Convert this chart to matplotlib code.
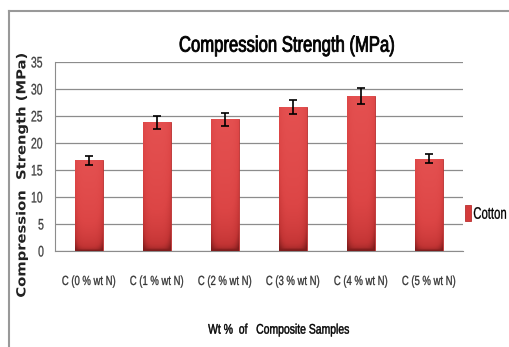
import matplotlib
matplotlib.use("Agg")
import matplotlib.pyplot as plt
from matplotlib.lines import Line2D
from matplotlib.patheffects import AbstractPathEffect
from matplotlib.transforms import Affine2D
from matplotlib.colors import LinearSegmentedColormap
import numpy as np

categories = ["C (0 % wt N)", "C (1 % wt N)", "C (2 % wt N)", "C (3 % wt N)", "C (4 % wt N)", "C (5 % wt N)"]
values = [16.8, 23.8, 24.4, 26.6, 28.7, 17.1]
errors = [0.8, 1.2, 1.2, 1.3, 1.4, 0.8]
yticks = [0, 5, 10, 15, 20, 25, 30, 35]


class Condense(AbstractPathEffect):
    """Horizontally squeeze (or stretch) text glyphs, optionally with a thin stroke."""
    def __init__(self, sx=0.8, anchor="center", stroke=0.0):
        super().__init__()
        self.sx = sx
        self.anchor = anchor
        self.stroke = stroke

    def draw_path(self, renderer, gc, tpath, affine, rgbFace=None):
        ext = tpath.get_extents()
        cx = ext.x0 if self.anchor == "left" else (ext.x0 + ext.x1) / 2
        t = Affine2D().translate(-cx, 0).scale(self.sx, 1).translate(cx, 0) + affine
        if self.stroke > 0 and rgbFace is not None:
            gc0 = renderer.new_gc()
            gc0.copy_properties(gc)
            gc0.set_linewidth(self.stroke)
            gc0.set_foreground(rgbFace)
            renderer.draw_path(gc0, tpath, t, rgbFace)
            gc0.restore()
        else:
            renderer.draw_path(gc, tpath, t, rgbFace)


BASE = "Liberation Sans"

fig = plt.figure(figsize=(5.09, 3.47), dpi=100)
ax = fig.add_axes([0.108, 0.2767, 0.8016, 0.5447])

x = np.arange(len(categories))
bars = ax.bar(x, values, width=0.41, color="#d43b3b", edgecolor="#b83030", linewidth=0.6,
              label="Cotton", zorder=3)

# gradient shading inside each bar
cmap = LinearSegmentedColormap.from_list("barshade", ["#7e1c1c", "#c23434", "#dc4545", "#e45050"])
gy = np.linspace(0, 1, 64)[:, None]
gx = np.linspace(-1, 1, 32)[None, :]
shade = np.clip(gy ** 0.35 - 0.25 * gx ** 4, 0, 1)
for b in bars:
    bx, by = b.get_x(), b.get_y()
    im = ax.imshow(shade, cmap=cmap, vmin=0, vmax=1, aspect="auto", origin="lower",
                   extent=[bx, bx + b.get_width(), by, by + b.get_height()], zorder=3.1,
                   interpolation="bilinear")
    im.set_clip_path(b)

ax.errorbar(x, values, yerr=errors, fmt="none", ecolor="black", elinewidth=1.2,
            capsize=3, capthick=1.2, zorder=4)

ax.set_xlim(-0.5, len(categories) - 0.5)
ax.set_ylim(0, 35)
ax.set_yticks(yticks)
ax.set_yticklabels([str(t) for t in yticks], fontsize=11, family=BASE, color="#404040")
ax.set_xticks(x)
ax.set_xticklabels(categories, fontsize=9.5, family=BASE, color="#333333")
ax.tick_params(axis="y", length=0, pad=7)
ax.tick_params(axis="x", length=0, pad=18)
for lab in ax.get_yticklabels():
    lab.set_path_effects([Condense(0.68, stroke=0.2)])
for lab in ax.get_xticklabels():
    lab.set_path_effects([Condense(0.72, stroke=0.2)])
ax.grid(axis="y", color="#8c8c8c", linewidth=0.9, zorder=0)
for s in ["top", "right"]:
    ax.spines[s].set_visible(False)
ax.spines["left"].set_color("#8c8c8c")
ax.spines["bottom"].set_color("#8c8c8c")

t = fig.text(0.564, 0.867, "Compression Strength (MPa)", fontsize=16, family=BASE,
             ha="center", va="center", color="black")
t.set_path_effects([Condense(0.75, stroke=0.6)])
yl = fig.text(0.043, 0.494, "Compression  Strength (MPa)", fontsize=9, fontweight="bold",
              family="DejaVu Sans", rotation=90, ha="center", va="center", color="#222222")
yl.set_path_effects([Condense(1.18)])
xl = fig.text(0.548, 0.05, "Wt %  of   Composite Samples", fontsize=10, family=BASE,
              ha="center", va="center", color="black")
xl.set_path_effects([Condense(0.75, stroke=0.3)])

leg = fig.legend(handles=[bars], labels=["Cotton"], loc="center left",
                 bbox_to_anchor=(0.913, 0.385), frameon=False, handlelength=0.4,
                 handleheight=1.1, handletextpad=0.1, borderaxespad=0, borderpad=0,
                 prop={"family": BASE, "size": 12})
for tx in leg.get_texts():
    tx.set_path_effects([Condense(0.68, anchor="left", stroke=0.2)])

fig.add_artist(Line2D([0.018, 0.018], [0, 0.968], transform=fig.transFigure, color="#999999", linewidth=1.5))
fig.add_artist(Line2D([0.018, 1.0], [0.968, 0.968], transform=fig.transFigure, color="#999999", linewidth=1.5))

fig.savefig("out.png", dpi=100)
